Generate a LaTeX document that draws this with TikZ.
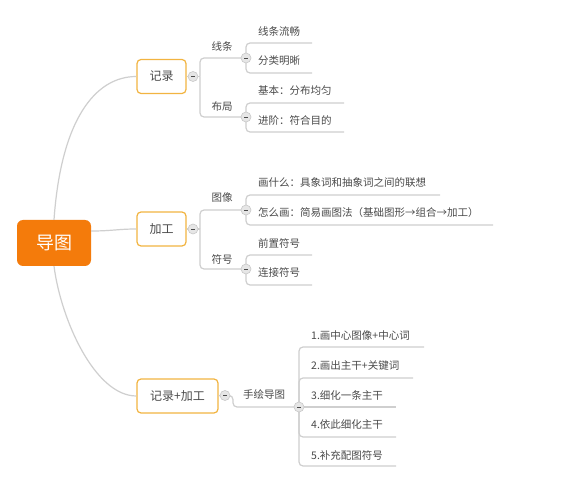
\documentclass[tikz,border=0pt]{standalone}
\usepackage{fontspec}
\setmainfont{Noto Sans CJK SC}
\definecolor{txt}{HTML}{4A4A4A}
\definecolor{ln}{HTML}{CFCFCF}
\definecolor{orb}{HTML}{F2B441}
\definecolor{orf}{HTML}{F47B0B}
\definecolor{cf}{HTML}{E6E6E6}
\definecolor{cb}{HTML}{C8C8C8}
\begin{document}
\begin{tikzpicture}[x=1pt,y=-1pt,
 conn/.style={draw=ln,line width=1.2pt},
 br/.style={conn,rounded corners=4pt},
 mainbox/.style={draw=orb,line width=1.2pt,fill=white,rounded corners=4pt,text=txt,font=\fontsize{12}{14}\selectfont,minimum height=34pt,inner sep=0pt},
 lab/.style={text=txt,font=\fontsize{10.5}{12}\selectfont,inner sep=0pt},
 leaf/.style={lab,anchor=west},
 fold/.style={circle,draw=cb,fill=cf,minimum size=10pt,inner sep=0pt,line width=0.6pt,
   path picture={\draw[txt,line width=0.8pt] ([xshift=-1.6pt]path picture bounding box.center) -- ([xshift=1.6pt]path picture bounding box.center);}}
]
\useasboundingbox[fill=white] (0,0) rectangle (566,497);

% root and main nodes
\node[fill=orf,rounded corners=6pt,minimum width=74pt,minimum height=46pt,text=white,font=\fontsize{18}{20}\selectfont,inner sep=0pt] (root) at (54,243) {导图};
\node[mainbox,minimum width=49pt] (n1) at (161.5,76.5) {记录};
\node[mainbox,minimum width=49pt] (n2) at (161.5,229) {加工};
\node[mainbox,minimum width=81pt] (n3) at (177.5,396) {记录+加工};

\draw[conn] (root.north) .. controls (61,120) and (95,76.5) .. (n1.west);
\draw[conn] ([yshift=12pt]root.east) .. controls (112,231) and (118,229) .. (n2.west);
\draw[conn] (root.south) .. controls (61,320) and (95,396) .. (n3.west);

% ---------- 记录 ----------
\coordinate (j1) at (200,76.5);
\coordinate (e111) at (312,43);
\coordinate (e112) at (312,73);
\coordinate (e121) at (344,103);
\coordinate (e122) at (344,132);
\draw[conn] (n1.east) -- (188,76.5);
\draw[conn] (198,76.5) -- (j1);
\draw[br] (j1) |- (241,58);
\draw[br] (j1) |- (241,117);
\draw[br] (246,53) |- (e111);
\draw[br] (246,63) |- (e112);
\draw[br] (246,112) |- (e121);
\draw[br] (246,122) |- (e122);
\node[fold] (f1) at (193,76.5) {};
\node[fold] (f11) at (246,58) {};
\node[fold] (f12) at (246,117) {};
\node[lab] (l11) at (222,46) {线条};
\node[lab] (l12) at (222,107) {布局};
\node[leaf] (t111) at (258,31) {线条流畅};
\node[leaf] (t112) at (258,61) {分类明晰};
\node[leaf] (t121) at (258,91) {基本：分布均匀};
\node[leaf] (t122) at (258,121) {进阶：符合目的};

% ---------- 加工 ----------
\coordinate (j2) at (200,229);
\coordinate (e211) at (440,195);
\coordinate (e212) at (493,225);
\coordinate (e221) at (312,255);
\coordinate (e222) at (312,285);
\draw[conn] (n2.east) -- (188,229);
\draw[conn] (198,229) -- (j2);
\draw[br] (j2) |- (241,210);
\draw[br] (j2) |- (241,269);
\draw[br] (246,205) |- (e211);
\draw[br] (246,215) |- (e212);
\draw[br] (246,264) |- (e221);
\draw[br] (246,274) |- (e222);
\node[fold] (f2) at (193,229) {};
\node[fold] (f21) at (246,210) {};
\node[fold] (f22) at (246,269) {};
\node[lab] (l21) at (222,198) {图像};
\node[lab] (l22) at (222,259) {符号};
\node[leaf] (t211) at (258,183) {画什么：具象词和抽象词之间的联想};
\node[leaf] (t212) at (258,213) {怎么画：简易画图法（基础图形→组合→加工）};
\node[leaf] (t221) at (258,243) {前置符号};
\node[leaf] (t222) at (258,273) {连接符号};

% ---------- 记录+加工 ----------
\coordinate (e31) at (424,347);
\coordinate (e32) at (413,378);
\coordinate (e33) at (396,407);
\coordinate (e34) at (396,437);
\coordinate (e35) at (396,466);
\draw[conn] (n3.east) -- (220,395.5);
\draw[br] (230,395.5) -- (233,395.5) |- (294,407);
\draw[br] (299,402) |- (e31);
\draw[br] (299,402) |- (e32);
\draw[conn] (304,407) -- (e33);
\draw[br] (299,412) |- (e34);
\draw[br] (299,412) |- (e35);
\node[fold] (f3) at (225,395.5) {};
\node[fold] (f31) at (299,407) {};
\node[lab] (l31) at (264,395) {手绘导图};
\node[leaf] (t31) at (311,336) {1.画中心图像+中心词};
\node[leaf] (t32) at (311,366) {2.画出主干+关键词};
\node[leaf] (t33) at (311,395) {3.细化一条主干};
\node[leaf] (t34) at (311,425) {4.依此细化主干};
\node[leaf] (t35) at (311,455) {5.补充配图符号};
\end{tikzpicture}
\end{document}
